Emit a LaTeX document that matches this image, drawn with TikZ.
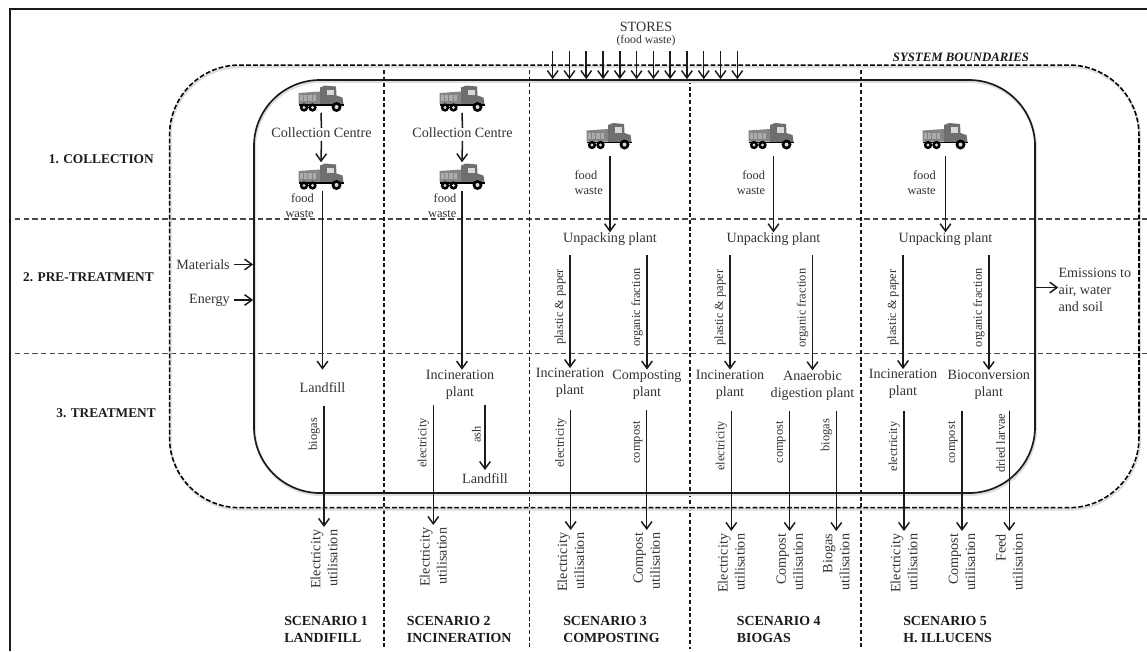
\documentclass[tikz,border=0pt]{standalone}
\usepackage{fontspec}
\setmainfont{Liberation Serif}
\usepackage{xcolor}
\usetikzlibrary{arrows.meta,positioning,calc}
\definecolor{inkgrey}{HTML}{333333}
\definecolor{ruleblack}{HTML}{1A1A1A}
\definecolor{softshadow}{HTML}{DDDDDD}
\definecolor{truckbed}{HTML}{858585}
\definecolor{truckstripe}{HTML}{ABABAB}
\definecolor{truckcab}{HTML}{6F6F6F}
\definecolor{truckglass}{HTML}{D8D8D8}
\newcommand{\bodysize}{\fontsize{10.6}{12.75}\selectfont}
\newcommand{\smallsize}{\fontsize{9.3}{11.25}\selectfont}
\tikzset{
  plant/.style={align=center, inner sep=0pt, text=inkgrey, font=\bodysize},
  smalltext/.style={align=right, inner sep=0pt, text=inkgrey, font=\smallsize},
  phase/.style={anchor=east, inner sep=0pt, text=ruleblack, font=\fontsize{10}{12}\selectfont\bfseries},
  scenario/.style={anchor=west, align=left, inner sep=0pt, text=ruleblack, font=\fontsize{10.4}{12.6}\selectfont\bfseries},
  utilnode/.style={rotate=90, anchor=east, align=right, inner xsep=2pt, inner ysep=0pt, text=inkgrey, font=\bodysize},
  flowlabel/.style={rotate=90, above, inner sep=2.6pt, text=inkgrey, font=\smallsize},
  flow/.style={-{Straight Barb[length=5.5pt,width=8pt,line width=1.1pt]}, line width=1.15pt, draw=ruleblack},
  stub/.style={line width=1.15pt, draw=ruleblack},
  phaseline/.style={line width=0.85pt, draw=ruleblack!80, dash pattern=on 4pt off 2.5pt},
  scenarioline/.style={line width=0.8pt, draw=ruleblack, dash pattern=on 3pt off 2pt},
  softcast/.style={preaction={draw=softshadow, solid, line width=1.8pt, transform canvas={xshift=0.6pt,yshift=-1.3pt}}},
  insidebox/.style={draw=ruleblack, line width=1.25pt, inner sep=0pt, rounded corners=49.5pt, minimum width=585.75pt, minimum height=309.75pt, softcast},
  boundarybox/.style={draw=black, line width=1.15pt, dash pattern=on 3.6pt off 1.6pt, inner sep=0pt, rounded corners=52.5pt, minimum width=727.1pt, minimum height=332pt, softcast},
  truckbox/.style={inner sep=0pt, minimum width=34pt, minimum height=21pt},
  dumptruck/.pic={
    \fill[truckbed] (-22.5,-5.5) -- (-1,-7) -- (-1,5.5) -- (-22.5,5.5) -- cycle;
    \fill[truckstripe] (-21,-3.5) rectangle (-17.8,2.5);
    \fill[truckstripe] (-16.8,-3.5) rectangle (-13.6,2.5);
    \fill[truckstripe] (-12.6,-3.5) rectangle (-9.4,2.5);
    \fill[truckstripe] (-8.4,-3.5) rectangle (-5.2,2.5);
    \fill[truckcab] (-1,-11) -- (4,-13) -- (15,-12) -- (15.5,-3) -- (21.5,-1) -- (22.5,6) -- (-1,6) -- cycle;
    \fill[truckglass] (6,-9) rectangle (13,-3.5);
    \fill[black] (-22.5,5.5) rectangle (22.5,7);
    \fill[black] (-17,9) circle (4.2) (-8.5,9) circle (4.2) (15.5,8.5) circle (5);
    \fill[truckglass] (-17,9) circle (1.7) (-8.5,9) circle (1.7) (15.5,8.5) circle (2);
  }
}
% truck node plus its drawing
\newcommand{\placetruck}[2]{
  \node[truckbox] (#1) at (#2) {};
  \pic at (#1) {dumptruck};
}

\begin{document}
\begin{tikzpicture}[x=0.75pt, y=-0.75pt]
  \useasboundingbox (0,0) rectangle (1147,651);
  \fill[white] (0,0) rectangle (1147,651);

  % outer frame and grid
  \draw[ruleblack, line width=1.25pt] (10,651) -- (10,9) -- (1147,9);
  \draw[phaseline] (15,219) -- (1147,219);
  \draw[phaseline] (15,353.5) -- (1147,353.5);
  \draw[scenarioline] (384,70) -- (384,649);
  \draw[scenarioline] (529.5,70) -- (529.5,649);
  \draw[scenarioline] (690,80) -- (690,649);
  \draw[scenarioline] (861,70) -- (861,649);

  % boxes
  \node[boundarybox] (boundary) at (654.25,286.35) {};
  \node[insidebox] (inside) at (644.5,286.5) {};
  \node[font=\fontsize{9.6}{11}\selectfont\bfseries\itshape, text=ruleblack, inner sep=0pt] (boundarytitle) at (961,57.5) {SYSTEM BOUNDARIES};

  % stores
  \node[plant] (stores) at (646,34) {STORES\\[-3.5pt]{\fontsize{8.8}{10}\selectfont (food waste)}};
  \foreach \i in {0,...,11} {
    \coordinate (store\i) at ({552.7+16.78*\i},51);
    \draw[flow] (store\i) -- (store\i |- inside.north);
  }

  % phases
  \node[phase] (collection) at (154,159) {1. COLLECTION};
  \node[phase] (pretreatment) at (154,277) {2. PRE-TREATMENT};
  \node[phase] (treatment) at (156,413) {3. TREATMENT};

  % inputs and outputs
  \node[plant, anchor=east] (materials) at (230,264.5) {Materials};
  \node[plant, anchor=east] (energy) at (230,300) {Energy};
  \draw[flow, shorten <=3pt] (materials.east) -- (materials.east -| inside.west);
  \draw[flow, shorten <=3pt] (energy.east) -- (energy.east -| inside.west);
  \node[plant, anchor=west, align=left] (emissions) at (1058.3,289.5) {Emissions to\\air, water\\and soil};
  \draw[flow] ([yshift=1.5pt]emissions.west -| inside.east) -- ([yshift=1.5pt]emissions.west);

  % scenario 1
  \placetruck{trucka}{321,98.5}
  \placetruck{truckaa}{321,176.5}
  \node[plant] (centrea) at (321.5,133) {Collection Centre};
  \node[smalltext, anchor=east] (wastea) at (314,205.5) {food\\waste};
  \node[plant] (landfilla) at (322.5,388) {Landfill};
  \node[utilnode] (utila) at (324,527) {Electricity\\utilisation};
  \draw[stub] (trucka.south) -- (centrea.north);
  \draw[flow, shorten <=2pt] (centrea.south) -- (truckaa.north);
  \draw[flow, shorten >=9.75pt] (truckaa.south -| landfilla) -- (landfilla.north);
  \draw[flow, shorten <=9.5pt] (landfilla.south -| utila.east) -- node[flowlabel, pos=.306] (biogasa) {biogas} (utila.east);
  \node[scenario] (scenarioa) at (284,629.5) {SCENARIO 1\\LANDIFILL};

  % scenario 2
  \placetruck{truckb}{462,98.5}
  \placetruck{truckbb}{462,176.5}
  \node[plant] (centreb) at (462.5,133) {Collection Centre};
  \node[smalltext, anchor=east] (wasteb) at (456.7,205.5) {food\\waste};
  \node[plant] (incinb) at (460,384.7) {Incineration\\plant};
  \node[plant] (landfillb) at (485,478.7) {Landfill};
  \node[utilnode] (utilb) at (433.3,525) {Electricity\\utilisation};
  \draw[stub] (truckb.south) -- (centreb.north);
  \draw[flow, shorten <=2pt] (centreb.south) -- (truckbb.north);
  \draw[flow] (truckbb.south) -- (truckbb.south |- incinb.north);
  \draw[flow, shorten <=4pt] (incinb.south -| utilb.east) -- node[flowlabel, pos=.346] (elecb) {electricity} (utilb.east);
  \draw[flow, shorten <=4pt, shorten >=2.5pt] (incinb.south -| landfillb) -- node[flowlabel, pos=.47] (ashb) {ash} (landfillb.north);
  \node[scenario] (scenariob) at (406.7,629.5) {SCENARIO 2\\INCINERATION};

  % scenario 3
  \placetruck{truckc}{609,136}
  \node[smalltext, anchor=west, align=left] (wastec) at (574.3,182.5) {food\\waste};
  \node[plant] (unpackc) at (610,239) {Unpacking plant};
  \node[plant] (incinc) at (570,383) {Incineration\\plant};
  \node[plant] (compostc) at (647,384.5) {Composting\\plant};
  \node[utilnode] (utilc) at (570.7,530) {Electricity\\utilisation};
  \node[utilnode] (utilcc) at (646.7,530) {Compost\\utilisation};
  \draw[flow, shorten <=4.5pt] (truckc.south -| unpackc) -- (unpackc.north);
  \draw[flow, shorten <=7pt] (unpackc.south -| incinc) -- node[flowlabel, pos=.5] (plasticc) {plastic \& paper} (incinc.north);
  \draw[flow, shorten <=7pt] (unpackc.south -| compostc) -- node[flowlabel, pos=.5] (organicc) {organic fraction} (compostc.north);
  \draw[flow, shorten <=9pt] (incinc.south -| utilc.east) -- node[flowlabel, pos=.34] (elecc) {electricity} (utilc.east);
  \draw[flow, shorten <=8pt] (compostc.south -| utilcc.east) -- node[flowlabel, pos=.33] (outc) {compost} (utilcc.east);
  \node[scenario] (scenarioc) at (563,629.5) {SCENARIO 3\\COMPOSTING};

  % scenario 4
  \placetruck{truckd}{771,136}
  \node[smalltext, anchor=east] (wasted) at (765.3,182.5) {food\\waste};
  \node[plant] (unpackd) at (773.5,239) {Unpacking plant};
  \node[plant] (incind) at (730,384.5) {Incineration\\plant};
  \node[plant] (anaerobicd) at (812.5,385.5) {Anaerobic\\digestion plant};
  \node[utilnode] (utild) at (731.3,531) {Electricity\\utilisation};
  \node[utilnode] (utildd) at (789.7,531) {Compost\\utilisation};
  \node[utilnode] (utilddd) at (836.3,531) {Biogas\\utilisation};
  \draw[flow, shorten <=4.5pt] (truckd.south -| unpackd) -- (unpackd.north);
  \draw[flow, shorten <=7pt] (unpackd.south -| incind) -- node[flowlabel, pos=.5] (plasticd) {plastic \& paper} (incind.north);
  \draw[flow, shorten <=7pt] (unpackd.south -| anaerobicd) -- node[flowlabel, pos=.5] (organicd) {organic fraction} (anaerobicd.north);
  \draw[flow, shorten <=8.5pt] (incind.south -| utild.east) -- node[flowlabel, pos=.354] (elecd) {electricity} (utild.east);
  \draw[flow, shorten <=8pt] (anaerobicd.south -| utildd.east) -- node[flowlabel, pos=.32] (outd) {compost} (utildd.east);
  \draw[flow, shorten <=8pt] (anaerobicd.south -| utilddd.east) -- node[flowlabel, pos=.265] (biogasd) {biogas} (utilddd.east);
  \node[scenario] (scenariod) at (736.7,629.5) {SCENARIO 4\\BIOGAS};

  % scenario 5
  \placetruck{trucke}{945,136}
  \node[smalltext, anchor=east] (wastee) at (936,182.5) {food\\waste};
  \node[plant] (unpacke) at (945.5,239) {Unpacking plant};
  \node[plant] (incine) at (903,384) {Incineration\\plant};
  \node[plant] (bioconv) at (988.8,385) {Bioconversion\\plant};
  \node[utilnode] (utile) at (904,531) {Electricity\\utilisation};
  \node[utilnode] (utilee) at (962,531) {Compost\\utilisation};
  \node[utilnode] (utileee) at (1009.3,531) {Feed\\utilisation};
  \draw[flow, shorten <=4.5pt] (trucke.south -| unpacke) -- (unpacke.north);
  \draw[flow, shorten <=7pt] (unpacke.south -| incine) -- node[flowlabel, pos=.5] (plastice) {plastic \& paper} (incine.north);
  \draw[flow, shorten <=7pt] (unpacke.south -| bioconv) -- node[flowlabel, pos=.5] (organice) {organic fraction} (bioconv.north);
  \draw[flow, shorten <=9pt] (incine.south -| utile.east) -- node[flowlabel, pos=.36] (elece) {electricity} (utile.east);
  \draw[flow, shorten <=8pt] (bioconv.south -| utilee.east) -- node[flowlabel, pos=.325] (oute) {compost} (utilee.east);
  \draw[flow, shorten <=8pt] (bioconv.south -| utileee.east) -- node[flowlabel, pos=.33] (larvae) {dried larvae} (utileee.east);
  \node[scenario] (scenarioe) at (903,629.5) {SCENARIO 5\\H. ILLUCENS};
\end{tikzpicture}
\end{document}
